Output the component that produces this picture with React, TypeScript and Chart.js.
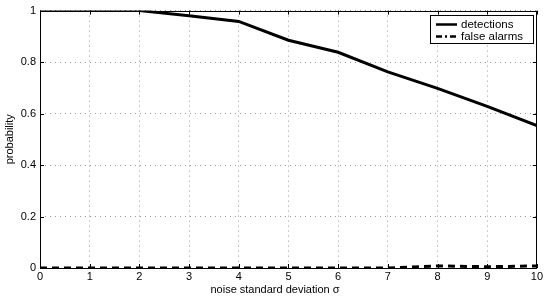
import React, { useEffect, useRef } from "react";
import { Chart, registerables } from "chart.js";

Chart.register(...registerables);

const sigma = [0, 1, 2, 3, 4, 5, 6, 7, 8, 9, 10];
const detections = [1, 1, 1, 0.98, 0.958, 0.885, 0.838, 0.762, 0.698, 0.628, 0.553];
const falseAlarms = [0, 0, 0, 0, 0, 0, 0, 0, 0.008, 0.005, 0.008];
const xTicks = [0, 1, 2, 3, 4, 5, 6, 7, 8, 9, 10];
const yTicks = [0, 0.2, 0.4, 0.6, 0.8, 1];
const seriesNames = ["detections", "false alarms"];
const xTitle = "noise standard deviation σ";
const yTitle = "probability";

const FONT = "'Liberation Sans', Arial, Helvetica, sans-serif";
const PLOT_DASH = [7, 5];
const LEGEND_DASH = [6, 3, 2, 3];

const framePlugin = {
  id: "frame",
  afterDraw(chart: any) {
    const { ctx, chartArea: a, scales } = chart;
    const xs = scales.x;
    const ys = scales.y;
    ctx.save();
    ctx.strokeStyle = "#000";
    ctx.lineWidth = 1;
    ctx.setLineDash([]);
    ctx.strokeRect(Math.round(a.left) + 0.5, Math.round(a.top) + 0.5, Math.round(a.right - a.left) - 1, Math.round(a.bottom - a.top));
    const tl = 4;
    ctx.beginPath();
    xTicks.forEach((t) => {
      const px = Math.round(xs.getPixelForValue(t)) + 0.5;
      ctx.moveTo(px, a.bottom);
      ctx.lineTo(px, a.bottom - tl);
      ctx.moveTo(px, a.top);
      ctx.lineTo(px, a.top + tl);
    });
    yTicks.forEach((t) => {
      const py = Math.round(ys.getPixelForValue(t)) + 0.5;
      ctx.moveTo(a.left, py);
      ctx.lineTo(a.left + tl, py);
      ctx.moveTo(a.right, py);
      ctx.lineTo(a.right - tl, py);
    });
    ctx.stroke();
    ctx.fillStyle = "#000";
    ctx.font = `11px ${FONT}`;
    ctx.textAlign = "center";
    ctx.textBaseline = "middle";
    ctx.fillText(xTitle, 275, 290);
    ctx.save();
    ctx.translate(9.5, (a.top + a.bottom) / 2);
    ctx.rotate(-Math.PI / 2);
    ctx.fillText(yTitle, 0, 0);
    ctx.restore();
    // legend
    const lx = 430, ly = 15, lw = 103, lh = 28;
    ctx.fillStyle = "#fff";
    ctx.fillRect(lx, ly, lw, lh);
    ctx.strokeStyle = "#000";
    ctx.strokeRect(lx + 0.5, ly + 0.5, lw, lh);
    const rows = [24.5, 36.5];
    ctx.lineWidth = 2.5;
    ctx.beginPath();
    ctx.setLineDash([]);
    ctx.moveTo(436, rows[0]);
    ctx.lineTo(457, rows[0]);
    ctx.stroke();
    ctx.beginPath();
    ctx.setLineDash(LEGEND_DASH);
    ctx.moveTo(436, rows[1]);
    ctx.lineTo(457, rows[1]);
    ctx.stroke();
    ctx.setLineDash([]);
    ctx.fillStyle = "#000";
    ctx.font = `11.5px ${FONT}`;
    ctx.textAlign = "left";
    ctx.fillText(seriesNames[0], 461, rows[0]);
    ctx.fillText(seriesNames[1], 461, rows[1]);
    ctx.restore();
  },
};

export default function App() {
  const ref = useRef<HTMLCanvasElement>(null);
  useEffect(() => {
    document.body.style.margin = "0";
    const chart = new Chart(ref.current as HTMLCanvasElement, {
      type: "line",
      data: {
        datasets: [
          {
            label: seriesNames[0],
            data: sigma.map((x, i) => ({ x, y: detections[i] })),
            borderColor: "#000",
            borderWidth: 3,
            pointRadius: 0,
            tension: 0,
          },
          {
            label: seriesNames[1],
            data: sigma.map((x, i) => ({ x, y: falseAlarms[i] })),
            borderColor: "#000",
            borderWidth: 3,
            borderDash: PLOT_DASH,
            pointRadius: 0,
            tension: 0,
          },
        ],
      },
      options: {
        animation: false,
        responsive: false,
        layout: { padding: { top: 10, right: 8, left: 0, bottom: 0 } },
        plugins: { legend: { display: false }, tooltip: { enabled: false } },
        scales: {
          x: {
            type: "linear",
            min: 0,
            max: 10,
            afterBuildTicks: (s: any) => {
              s.ticks = xTicks.map((v) => ({ value: v }));
            },
            afterFit: (s: any) => {
              s.height = 31;
            },
            ticks: { color: "#000", font: { size: 11, family: FONT }, padding: 2, maxRotation: 0, callback: (v: any) => String(v) },
            grid: { color: "#999", lineWidth: 1, drawTicks: false },
            border: { display: false, dash: [1, 4] },
          },
          y: {
            type: "linear",
            min: 0,
            max: 1,
            afterBuildTicks: (s: any) => {
              s.ticks = yTicks.map((v) => ({ value: v }));
            },
            afterFit: (s: any) => {
              s.width = 40;
            },
            ticks: { color: "#000", font: { size: 11, family: FONT }, padding: 4, callback: (v: any) => String(Math.round(v * 10) / 10) },
            grid: { color: "#999", lineWidth: 1, drawTicks: false },
            border: { display: false, dash: [1, 4] },
          },
        },
      } as any,
      plugins: [framePlugin],
    });
    return () => chart.destroy();
  }, []);
  return (
    <div style={{ width: 545, height: 299 }}>
      <canvas ref={ref} width={545} height={299} style={{ display: "block" }} />
    </div>
  );
}
